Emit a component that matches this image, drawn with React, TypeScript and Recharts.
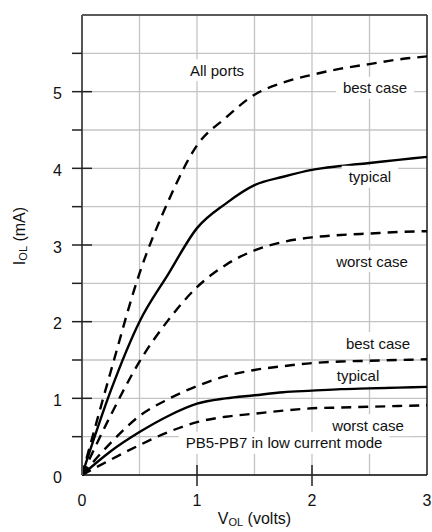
import React from "react";
import {
  LineChart,
  Line,
  XAxis,
  YAxis,
  CartesianGrid,
  ReferenceLine,
  ReferenceDot,
} from "recharts";

const FONT = '"Liberation Sans", Arial, Helvetica, sans-serif';

// V_OL (volts)
const volts = [0, 0.25, 0.5, 0.75, 1, 1.25, 1.5, 1.75, 2, 2.25, 2.5, 2.75, 3];

// All ports
const allBest = [0, 1.35, 2.63, 3.57, 4.3, 4.66, 4.96, 5.12, 5.22, 5.3, 5.36, 5.42, 5.46];
const allTypical = [0, 1.1, 2.0, 2.62, 3.22, 3.54, 3.78, 3.89, 3.98, 4.03, 4.07, 4.11, 4.15];
const allWorst = [0, 0.78, 1.48, 2.02, 2.45, 2.74, 2.93, 3.04, 3.1, 3.13, 3.15, 3.17, 3.18];

// PB5-PB7 in low current mode
const lowBest = [0, 0.42, 0.77, 0.99, 1.16, 1.29, 1.37, 1.42, 1.46, 1.48, 1.49, 1.5, 1.51];
const lowTypical = [0, 0.31, 0.56, 0.77, 0.93, 1.0, 1.04, 1.08, 1.1, 1.12, 1.13, 1.14, 1.15];
const lowWorst = [0, 0.2, 0.39, 0.56, 0.69, 0.76, 0.8, 0.84, 0.87, 0.88, 0.89, 0.9, 0.91];

const xTicks = [0, 0.5, 1, 1.5, 2, 2.5, 3];
const yTicks = [0, 0.5, 1, 1.5, 2, 2.5, 3, 3.5, 4, 4.5, 5, 5.5, 6];

const noteTexts = [
  "All ports",
  "best case",
  "typical",
  "worst case",
  "best case",
  "typical",
  "worst case",
  "PB5-PB7 in low current mode",
];
const noteX = [1.174, 2.548, 2.504, 2.522, 2.574, 2.4, 2.487, 1.757];
const noteY = [5.28, 5.05, 3.89, 2.79, 1.72, 1.3, 0.65, 0.42];

const data = volts.map((v, i) => ({
  v,
  allBest: allBest[i],
  allTypical: allTypical[i],
  allWorst: allWorst[i],
  lowBest: lowBest[i],
  lowTypical: lowTypical[i],
  lowWorst: lowWorst[i],
}));

let ctx: CanvasRenderingContext2D | null = null;
function textWidth(s: string, size: number) {
  if (!ctx) ctx = document.createElement("canvas").getContext("2d");
  if (!ctx) return s.length * size * 0.5;
  ctx.font = `${size}px ${FONT}`;
  return ctx.measureText(s).width;
}

function renderNote(p: any, text: string) {
  const vb = p.viewBox || {};
  const cx = vb.x + (vb.width || 0) / 2;
  const cy = vb.y + (vb.height || 0) / 2;
  const w = textWidth(text, 15) + 14;
  return (
    <g>
      <rect x={cx - w / 2} y={cy - 11} width={w} height={22} fill="#fff" />
      <text
        x={cx}
        y={cy}
        textAnchor="middle"
        dominantBaseline="central"
        fontSize={15}
        fontFamily={FONT}
        fill="#111"
      >
        {text}
      </text>
    </g>
  );
}

const XTick = (props: any) => {
  const { x, y, payload } = props;
  const v = payload.value;
  const major = Number.isInteger(v);
  return (
    <g>
      {(v === 1 || v === 2) && (
        <line x1={x} x2={x} y1={y - 10} y2={y + 11} stroke="#222" strokeWidth={1.5} />
      )}
      {major && (
        <text
          x={x}
          y={y + 25}
          textAnchor="middle"
          dominantBaseline="central"
          fontSize={16}
          fontFamily={FONT}
          fill="#111"
        >
          {v}
        </text>
      )}
    </g>
  );
};

const YTick = (props: any) => {
  const { x, y, payload } = props;
  const v = payload.value;
  if (v >= 6) return null;
  const major = Number.isInteger(v);
  return (
    <g>
      {v > 0 && (
        <line
          x1={x - 10}
          x2={major ? x + 10 : x}
          y1={y}
          y2={y}
          stroke="#222"
          strokeWidth={1.5}
        />
      )}
      {major && (
        <text
          x={x - 20}
          y={y + 2}
          textAnchor="end"
          dominantBaseline="central"
          fontSize={16}
          fontFamily={FONT}
          fill="#111"
        >
          {v}
        </text>
      )}
    </g>
  );
};

const XTitle = (p: any) => {
  const vb = p.viewBox;
  const cx = vb.x + vb.width / 2;
  return (
    <text x={cx} y={vb.y + 43} textAnchor="middle" dominantBaseline="central" fontSize={16} fontFamily={FONT} fill="#111">
      <tspan>V</tspan>
      <tspan fontSize={11} dy={4}>OL</tspan>
      <tspan dy={-4}> (volts)</tspan>
    </text>
  );
};

const YTitle = (p: any) => {
  const vb = p.viewBox;
  const cx = 19;
  const cy = vb.y + vb.height / 2 - 9;
  return (
    <text
      x={cx}
      y={cy}
      transform={`rotate(-90 ${cx} ${cy})`}
      textAnchor="middle"
      dominantBaseline="central"
      fontSize={16}
      fontFamily={FONT}
      fill="#111"
    >
      <tspan>I</tspan>
      <tspan fontSize={11} dy={4}>OL</tspan>
      <tspan dy={-4}> (mA)</tspan>
    </text>
  );
};

const dash = "10 7";

export default function App() {
  return (
    <div style={{ position: "absolute", left: 0, top: 0, width: 432, height: 532, background: "#fff" }}>
      <LineChart
        width={432}
        height={532}
        data={data}
        margin={{ top: 15, right: 5, left: 0, bottom: 0 }}
      >
        <CartesianGrid stroke="#c4c4c4" strokeWidth={1.3} />
        <XAxis
          dataKey="v"
          type="number"
          domain={[0, 3]}
          ticks={xTicks}
          interval={0}
          height={57}
          tickSize={0}
          tickMargin={0}
          tickLine={false}
          tick={<XTick />}
          axisLine={{ stroke: "#111", strokeWidth: 1.6 }}
          label={(p: any) => <XTitle {...p} />}
        />
        <YAxis
          type="number"
          domain={[0, 6]}
          ticks={yTicks}
          interval={0}
          width={82}
          tickSize={0}
          tickMargin={0}
          tickLine={false}
          tick={<YTick />}
          axisLine={{ stroke: "#555", strokeWidth: 2 }}
          label={(p: any) => <YTitle {...p} />}
        />
        <ReferenceLine y={6} stroke="#333" strokeWidth={1.6} />
        <ReferenceLine x={3} stroke="#333" strokeWidth={1.6} />
        {noteTexts.map((t, i) => (
          <ReferenceDot
            key={i}
            x={noteX[i]}
            y={noteY[i]}
            r={1}
            fill="none"
            stroke="none"
            label={(p: any) => renderNote(p, t)}
          />
        ))}
        <Line type="monotone" dataKey="allBest" stroke="#000" strokeWidth={2.4} strokeDasharray={dash} dot={false} isAnimationActive={false} />
        <Line type="monotone" dataKey="allTypical" stroke="#000" strokeWidth={2.4} dot={false} isAnimationActive={false} />
        <Line type="monotone" dataKey="allWorst" stroke="#000" strokeWidth={2.4} strokeDasharray={dash} dot={false} isAnimationActive={false} />
        <Line type="monotone" dataKey="lowBest" stroke="#000" strokeWidth={2.4} strokeDasharray={dash} dot={false} isAnimationActive={false} />
        <Line type="monotone" dataKey="lowTypical" stroke="#000" strokeWidth={2.4} dot={false} isAnimationActive={false} />
        <Line type="monotone" dataKey="lowWorst" stroke="#000" strokeWidth={2.4} strokeDasharray={dash} dot={false} isAnimationActive={false} />
      </LineChart>
    </div>
  );
}
